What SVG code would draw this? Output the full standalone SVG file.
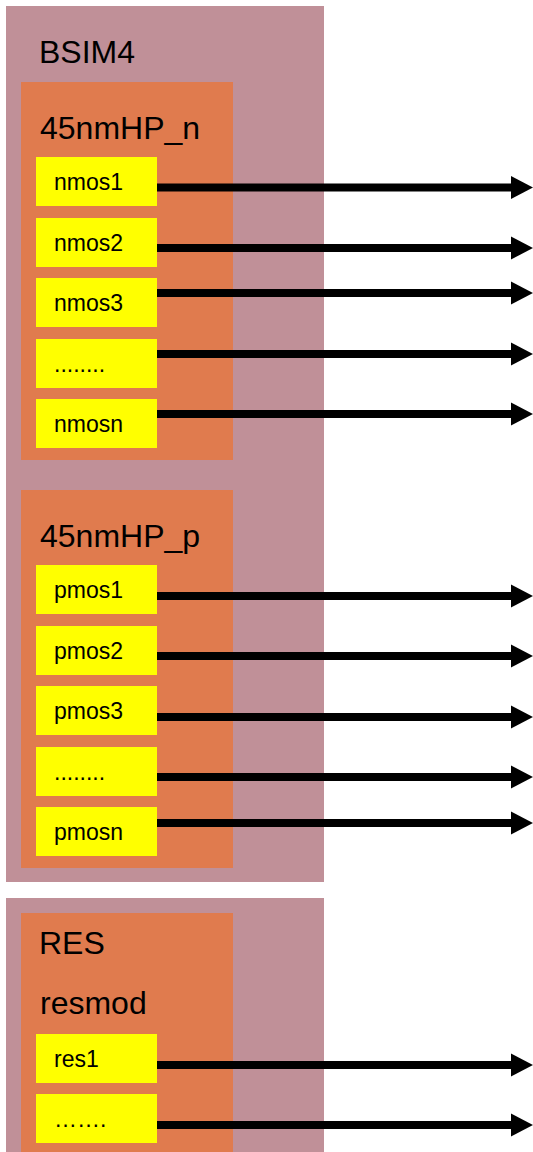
<svg xmlns="http://www.w3.org/2000/svg" width="533" height="1152" viewBox="0 0 533 1152">
  <style>
    .lib { fill: #C09098; }
    .grp { fill: #E07B4E; }
    .dev { fill: #FFFF00; }
    .big { font-family: "Liberation Sans", Arial, sans-serif; font-size: 32px; fill: #000; }
    .small { font-family: "Liberation Sans", Arial, sans-serif; font-size: 23px; fill: #000; }
    .wire { stroke: #000; stroke-width: 8; fill: none; marker-end: url(#head); }
  </style>
  <defs>
    <marker id="head" markerUnits="userSpaceOnUse" markerWidth="22" markerHeight="24" refX="0" refY="12" orient="auto" viewBox="0 0 22 24">
      <polygon points="0,0.5 22,12 0,23.5" fill="#000"/>
    </marker>
  </defs>
  <rect width="533" height="1152" fill="#FFFFFF"/>

  <!-- BSIM4 library -->
  <g id="bsim4">
    <rect class="lib" x="6" y="6" width="318" height="876"/>
    <text class="big" x="39" y="63">BSIM4</text>
  </g>

  <!-- n-channel group -->
  <g id="hp-n">
    <rect class="grp" x="21" y="82" width="212" height="378"/>
    <text class="big" x="40" y="139">45nmHP_n</text>
  </g>
  <g id="nmos1"><rect class="dev" x="36" y="157" width="121" height="49"/><text class="small" x="54" y="190">nmos1</text></g>
  <g id="nmos2"><rect class="dev" x="36" y="218" width="121" height="49"/><text class="small" x="54" y="251">nmos2</text></g>
  <g id="nmos3"><rect class="dev" x="36" y="278" width="121" height="49"/><text class="small" x="54" y="311">nmos3</text></g>
  <g id="nmos-more"><rect class="dev" x="36" y="339" width="121" height="49"/><text class="small" x="54" y="372">........</text></g>
  <g id="nmosn"><rect class="dev" x="36" y="399" width="121" height="49"/><text class="small" x="54" y="432">nmosn</text></g>

  <!-- p-channel group -->
  <g id="hp-p">
    <rect class="grp" x="21" y="490" width="212" height="378"/>
    <text class="big" x="40" y="547">45nmHP_p</text>
  </g>
  <g id="pmos1"><rect class="dev" x="36" y="565" width="121" height="49"/><text class="small" x="54" y="598">pmos1</text></g>
  <g id="pmos2"><rect class="dev" x="36" y="626" width="121" height="49"/><text class="small" x="54" y="659">pmos2</text></g>
  <g id="pmos3"><rect class="dev" x="36" y="686" width="121" height="49"/><text class="small" x="54" y="719">pmos3</text></g>
  <g id="pmos-more"><rect class="dev" x="36" y="747" width="121" height="49"/><text class="small" x="54" y="780">........</text></g>
  <g id="pmosn"><rect class="dev" x="36" y="807" width="121" height="49"/><text class="small" x="54" y="840">pmosn</text></g>

  <!-- resistor library -->
  <g id="res">
    <rect class="lib" x="6" y="898" width="318" height="260"/>
    <rect class="grp" x="21" y="913" width="212" height="245"/>
    <text class="big" x="39" y="954">RES</text>
    <text class="big" x="40" y="1014">resmod</text>
  </g>
  <g id="res1"><rect class="dev" x="36" y="1034" width="121" height="49"/><text class="small" x="54" y="1067">res1</text></g>
  <g id="res-more"><rect class="dev" x="36" y="1094" width="121" height="49"/><text class="small" x="54" y="1127">…….</text></g>

  <!-- outputs -->
  <g id="connectors">
    <line class="wire" x1="157" y1="187.5" x2="511" y2="187.5"/>
    <line class="wire" x1="157" y1="248" x2="511" y2="248"/>
    <line class="wire" x1="157" y1="293" x2="511" y2="293"/>
    <line class="wire" x1="157" y1="354" x2="511" y2="354"/>
    <line class="wire" x1="157" y1="414" x2="511" y2="414"/>
    <line class="wire" x1="157" y1="596" x2="511" y2="596"/>
    <line class="wire" x1="157" y1="656" x2="511" y2="656"/>
    <line class="wire" x1="157" y1="717" x2="511" y2="717"/>
    <line class="wire" x1="157" y1="777" x2="511" y2="777"/>
    <line class="wire" x1="157" y1="823" x2="511" y2="823"/>
    <line class="wire" x1="157" y1="1065" x2="511" y2="1065"/>
    <line class="wire" x1="157" y1="1125" x2="511" y2="1125"/>
  </g>
</svg>
